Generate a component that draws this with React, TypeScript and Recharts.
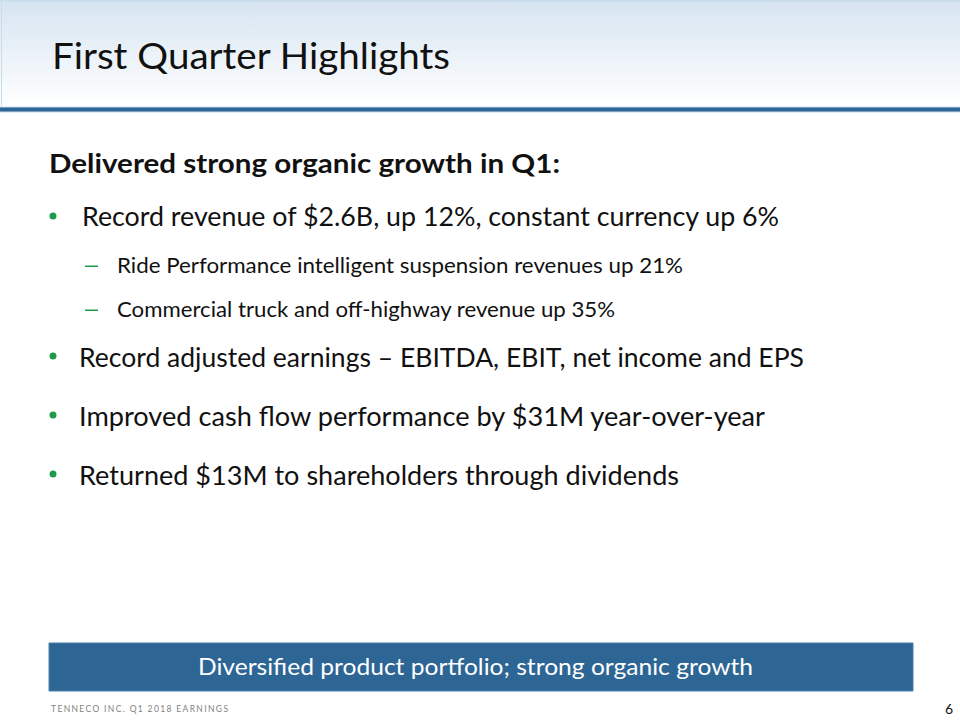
import { Surface, Layer, Rectangle } from "recharts";

const slideTitle = "First Quarter Highlights";
const heading = "Delivered strong organic growth in Q1:";
const firstBullet = "Record revenue of $2.6B, up 12%, constant currency up 6%";
const subBullets = [
  "Ride Performance intelligent suspension revenues up 21%",
  "Commercial truck and off-highway revenue up 35%",
];
const moreBullets = [
  "Record adjusted earnings \u2013 EBITDA, EBIT, net income and EPS",
  "Improved cash flow performance by $31M year-over-year",
  "Returned $13M to shareholders through dividends",
];
const banner = "Diversified product portfolio; strong organic growth";
const footer = "TENNECO INC. Q1 2018 EARNINGS";
const pageNo = "6";

const W = 960;
const H = 720;
const FONT = "Lato, 'Open Sans', sans-serif";
const GREEN = "#1f9a4b";
const BLUE = "#2d6695";
const INK = "#111111";

// measured widths (px) of each line in the reference
const subWidths = [566, 498];
const moreWidths = [725, 686, 600];
const moreY = [367, 426, 485];
const subY = [273, 317];

export default function App() {
  return (
    <div style={{ position: "absolute", left: 0, top: 0, width: W, height: H, background: "#fff" }}>
      <Surface width={W} height={H}>
        <defs>
          <linearGradient id="hdr" x1="0" y1="0" x2="0" y2="1">
            <stop offset="0%" stopColor="#d6e4f1" />
            <stop offset="100%" stopColor="#ffffff" />
          </linearGradient>
        </defs>
        <Layer>
          <Rectangle x={0} y={0} width={W} height={106} fill="url(#hdr)" />
          <Rectangle x={0} y={0} width={W} height={1.5} fill="#c9dcec" />
          <Rectangle x={1} y={0} width={1} height={106} fill="#c9dcec" />
          <Rectangle x={0} y={106.5} width={W} height={6} fill="#c7dbeb" />
          <Rectangle x={0} y={107.5} width={W} height={4} fill={BLUE} />
          <text x={52} y={69} fontFamily={FONT} fontSize={37} fill={INK} textLength={398} lengthAdjust="spacingAndGlyphs">
            {slideTitle}
          </text>
        </Layer>

        <Layer>
          <text x={49} y={173} fontFamily={FONT} fontSize={26} fontWeight={700} fill={INK} textLength={511} lengthAdjust="spacingAndGlyphs">
            {heading}
          </text>
          <circle cx={53} cy={216} r={3.5} fill={GREEN} />
          <text x={82} y={226} fontFamily={FONT} fontSize={26.5} fill={INK} textLength={697} lengthAdjust="spacingAndGlyphs">
            {firstBullet}
          </text>
          {subBullets.map((s, i) => (
            <g key={s}>
              <rect x={85} y={subY[i] - 7.5} width={13} height={1.5} fill={GREEN} />
              <text x={117} y={subY[i]} fontFamily={FONT} fontSize={22} fill={INK} textLength={subWidths[i]} lengthAdjust="spacingAndGlyphs">
                {s}
              </text>
            </g>
          ))}
          {moreBullets.map((s, i) => (
            <g key={s}>
              <circle cx={53} cy={moreY[i] - 11} r={3.5} fill={GREEN} />
              <text x={79} y={moreY[i]} fontFamily={FONT} fontSize={26.5} fill={INK} textLength={moreWidths[i]} lengthAdjust="spacingAndGlyphs">
                {s}
              </text>
            </g>
          ))}
        </Layer>

        <Layer>
          <Rectangle x={49} y={643} width={864} height={48} fill={BLUE} stroke="#4a7fab" strokeWidth={1} />
          <text x={198} y={675} fontFamily={FONT} fontSize={24} fill="#ffffff" textLength={555} lengthAdjust="spacingAndGlyphs">
            {banner}
          </text>
          <text x={51} y={712} fontFamily={FONT} fontSize={8.5} fill="#7f7f7f" textLength={177} lengthAdjust="spacing">
            {footer}
          </text>
          <text x={945} y={714} fontFamily={FONT} fontSize={14} fill={INK}>
            {pageNo}
          </text>
        </Layer>
      </Surface>
    </div>
  );
}
